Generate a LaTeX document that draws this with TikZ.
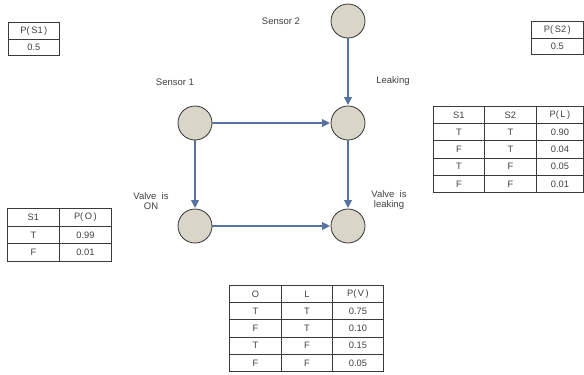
\documentclass[tikz,border=0pt]{standalone}
\usepackage{fontspec}
\setmainfont{Liberation Sans}
\usetikzlibrary{arrows.meta}
\definecolor{arrowblue}{HTML}{5572A0}
\definecolor{nodefill}{HTML}{D9D6C9}
\definecolor{tline}{HTML}{3A3A3A}
\definecolor{tcol}{HTML}{404040}
\tikzset{
  bnode/.style={circle, draw=black!80, line width=0.8pt, fill=nodefill, minimum size=34pt, inner sep=0pt},
  link/.style={draw=arrowblue, line width=2.2pt, -{Triangle[length=8pt,width=7.5pt]}, shorten >=0.5pt},
  lbl/.style={font=\fontsize{9.5}{10.5}\selectfont, text=tcol, align=center, inner sep=0pt},
  cell/.style={draw=tline, line width=0.8pt, anchor=north west, inner sep=0pt, font=\fontsize{9.3}{10}\selectfont, text=tcol}
}
\newcommand{\tcell}[6]{\node[cell, minimum width=#4pt, minimum height=#5pt] (#1) at (#2,#3) {#6};}
\begin{document}
\begin{tikzpicture}[x=1pt,y=-1pt]
\useasboundingbox (0,0) rectangle (584,375);
% nodes
\node[bnode] (s2) at (348,21) {};
\node[bnode] (s1) at (195,123) {};
\node[bnode] (lk) at (348,123) {};
\node[bnode] (on) at (195,226) {};
\node[bnode] (vl) at (348,226) {};
% labels
\node[lbl] (ls2) at (281,21) {Sensor 2};
\node[lbl] (ls1) at (175,82) {Sensor 1};
\node[lbl] (llk) at (393,81) {Leaking};
\node[lbl] (lon) at (151,201) {Valve\ \ is\\ON};
\node[lbl] (lvl) at (389,200) {Valve\ \ is\\leaking};
% arrows
\draw[link] (s2) -- (lk);
\draw[link] (s1) -- (lk);
\draw[link] (s1) -- (on);
\draw[link] (lk) -- (vl);
\draw[link] (on) -- (vl);
% P(S1)
\tcell{ps1h}{8}{22}{51}{16.5}{P(\,S1\,)}
\tcell{ps1v}{8}{38.5}{51}{16.5}{0.5}
% P(S2)
\tcell{ps2h}{531}{21}{52}{16.5}{P(\,S2\,)}
\tcell{ps2v}{531}{37.5}{52}{16.5}{0.5}
% P(L)
\foreach \r/\a/\b/\c [count=\i from 0] in {S1/S2/{P(\,L\,)},T/T/0.90,F/T/0.04,T/F/0.05,F/F/0.01}{
  \pgfmathsetmacro{\yy}{106+17.2*\i}
  \tcell{la\i}{433}{\yy}{51}{17.2}{\r}
  \tcell{lb\i}{484}{\yy}{52}{17.2}{\a}
  \tcell{lc\i}{536}{\yy}{47}{17.2}{\c}
}
% P(O)
\foreach \r/\c [count=\i from 0] in {S1/{P(\,O\,)},T/0.99,F/0.01}{
  \pgfmathsetmacro{\yy}{208+17.6*\i}
  \tcell{oa\i}{7}{\yy}{52}{17.6}{\r}
  \tcell{ob\i}{59}{\yy}{52}{17.6}{\c}
}
% P(V)
\foreach \r/\a/\c [count=\i from 0] in {O/L/{P(\,V\,)},T/T/0.75,F/T/0.10,T/F/0.15,F/F/0.05}{
  \pgfmathsetmacro{\yy}{285+17.2*\i}
  \tcell{va\i}{229}{\yy}{52}{17.2}{\r}
  \tcell{vb\i}{281}{\yy}{51}{17.2}{\a}
  \tcell{vc\i}{332}{\yy}{51}{17.2}{\c}
}
\end{tikzpicture}
\end{document}
